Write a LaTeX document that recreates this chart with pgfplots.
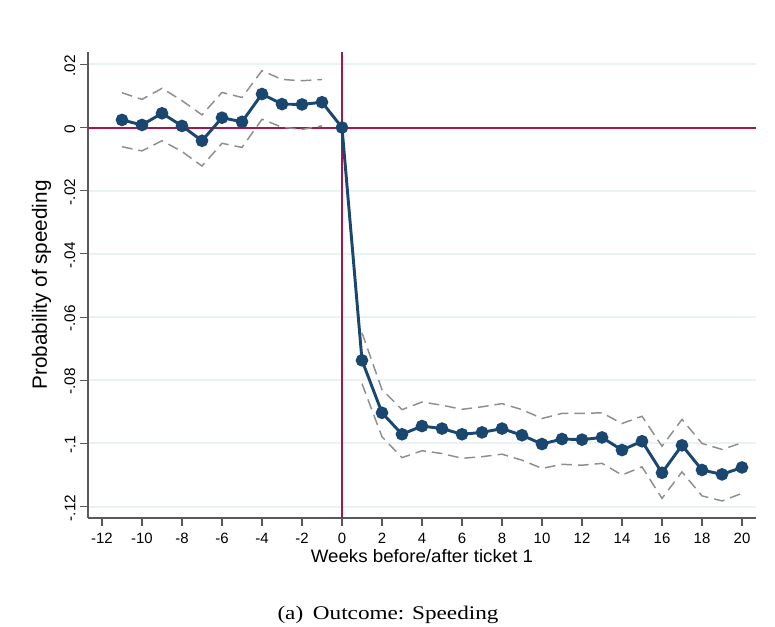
\documentclass[border=0pt]{standalone}
\usepackage{pgfplots}
\pgfplotsset{compat=1.18}
\usepackage{fontspec}
\setmainfont{Liberation Sans}
\newfontfamily\capfont{Liberation Serif}

\definecolor{statanavy}{HTML}{1A476F}
\definecolor{refred}{HTML}{A3174A}
\definecolor{gridc}{HTML}{EAF2F3}
\definecolor{cigray}{HTML}{8E8E8E}

\begin{document}
\begin{tikzpicture}
\path[use as bounding box] (-66pt,-81.75pt) rectangle (515.25pt,388.5pt);
\begin{axis}[
    at={(0,0)}, anchor=south west,
    scale only axis, width=501pt, height=349.5pt,
    xmin=-12.7, xmax=20.7, ymin=-0.1236, ymax=0.0239,
    axis x line*=bottom, axis y line*=left,
    axis line style={black!65, line width=0.8pt},
    xtick={-12,-10,...,20},
    xticklabels={-12,-10,-8,-6,-4,-2,0,2,4,6,8,10,12,14,16,18,20},
    ytick={-0.12,-0.1,-0.08,-0.06,-0.04,-0.02,0,0.02},
    yticklabels={-.12,-.1,-.08,-.06,-.04,-.02,0,.02},
    tick align=outside, major tick length=6pt,
    tick style={black!65, line width=0.8pt},
    ymajorgrids, grid style={gridc, line width=1.5pt},
    xticklabel style={font=\fontsize{11.2}{11.2}\selectfont, yshift=-2pt},
    yticklabel style={font=\fontsize{11.5}{11.5}\selectfont, rotate=90, anchor=south, xshift=-1pt},
    xlabel={Weeks before/after ticket 1},
    ylabel={Probability of speeding},
    xlabel style={font=\fontsize{13.5}{13.5}\selectfont, xscale=1.04,
        at={(axis description cs:0.5,0)}, anchor=base, yshift=-33.75pt},
    ylabel style={font=\fontsize{15.5}{15.5}\selectfont,
        at={(axis description cs:-0.0614,0.5)}, anchor=base},
    clip=false,
]
\draw[refred, line width=1.2pt] (axis cs:0,-0.1236) -- (axis cs:0,0.0239);
\draw[refred, line width=1.5pt] (axis cs:-12.7,0) -- (axis cs:20.7,0);

% confidence bands, pre-period
\addplot[cigray, line width=1.1pt, dash pattern=on 8pt off 4.5pt] coordinates {
(-11,0.0110) (-10,0.0089) (-9,0.0124) (-8,0.0085) (-7,0.0040) (-6,0.0111)
(-5,0.0095) (-4,0.0180) (-3,0.0152) (-2,0.0148) (-1,0.0152)};
\addplot[cigray, line width=1.1pt, dash pattern=on 8pt off 4.5pt] coordinates {
(-11,-0.0061) (-10,-0.0074) (-9,-0.0042) (-8,-0.0076) (-7,-0.0122) (-6,-0.0050)
(-5,-0.0063) (-4,0.0026) (-3,0.0001) (-2,-0.0006) (-1,0.0005)};
% confidence bands, post-period
\addplot[cigray, line width=1.1pt, dash pattern=on 8pt off 4.5pt] coordinates {
(1,-0.0650) (2,-0.0830) (3,-0.0893) (4,-0.0869) (5,-0.0879) (6,-0.0892) (7,-0.0884)
(8,-0.0874) (9,-0.0893) (10,-0.0921) (11,-0.0905) (12,-0.0905) (13,-0.0903)
(14,-0.0937) (15,-0.0914) (16,-0.1009) (17,-0.0924) (18,-0.1000) (19,-0.1019) (20,-0.0998)};
\addplot[cigray, line width=1.1pt, dash pattern=on 8pt off 4.5pt] coordinates {
(1,-0.0811) (2,-0.0979) (3,-0.1045) (4,-0.1023) (5,-0.1032) (6,-0.1047) (7,-0.1042)
(8,-0.1034) (9,-0.1053) (10,-0.1079) (11,-0.1066) (12,-0.1069) (13,-0.1063)
(14,-0.1100) (15,-0.1074) (16,-0.1174) (17,-0.1090) (18,-0.1166) (19,-0.1182) (20,-0.1158)};

% point estimates
\addplot[statanavy, line width=2.2pt, mark=*, mark size=3.6pt] coordinates {
(-11,0.0024) (-10,0.0008) (-9,0.0045) (-8,0.0005) (-7,-0.0042) (-6,0.0031)
(-5,0.0018) (-4,0.0106) (-3,0.0074) (-2,0.0073) (-1,0.0080) (0,0)
(1,-0.0737) (2,-0.0903) (3,-0.0971) (4,-0.0945) (5,-0.0953) (6,-0.0971)
(7,-0.0965) (8,-0.0953) (9,-0.0974) (10,-0.1002) (11,-0.0986) (12,-0.0988)
(13,-0.0981) (14,-0.1021) (15,-0.0993) (16,-0.1093) (17,-0.1006) (18,-0.1084)
(19,-0.1098) (20,-0.1076)};
\end{axis}
\node[font=\capfont\fontsize{14.5}{14.5}\selectfont, xscale=1.2, anchor=base] at (225pt,-76.5pt) {(a)\, Outcome: Speeding};
\end{tikzpicture}
\end{document}
